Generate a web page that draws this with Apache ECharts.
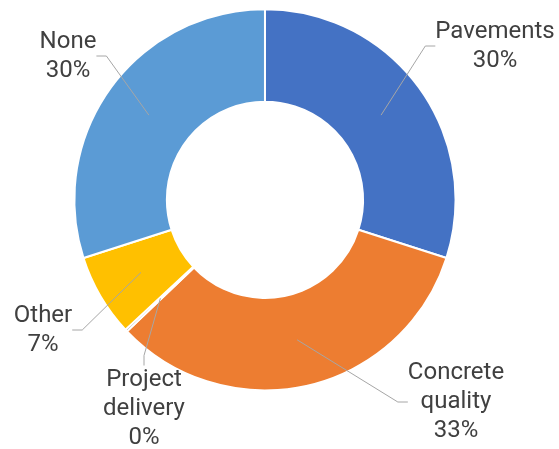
<!DOCTYPE html>
<html>
<head>
<meta charset="utf-8">
<script src="https://cdn.jsdelivr.net/npm/echarts@6/dist/echarts.min.js"></script>
<style>
  html, body { margin: 0; padding: 0; background: #fff; }
  #chart { width: 559px; height: 449px; }
</style>
</head>
<body>
<div id="chart"></div>
<script>
// Share of issues by category (percent)
const categories = ['Pavements', 'Concrete quality', 'Project delivery', 'Other', 'None'];
const shares = [30, 33, 0.2, 7, 30];
const colors = ['#4472C4', '#ED7D31', '#A5A5A5', '#FFC000', '#5B9BD5'];

// Where each category's label block sits (centre of the text block, px)
const labelSpots = [
  [495, 46],
  [456, 402],
  [144, 409],
  [43, 330],
  [68, 56]
];

const center = ['47.4%', '44.5%'];

const ringData = categories.map((name, i) => ({
  name, value: shares[i], itemStyle: { color: colors[i] }
}));

const chart = echarts.init(document.getElementById('chart'), null, { renderer: 'canvas' });

chart.setOption({
  animation: false,
  backgroundColor: '#ffffff',
  series: [
    {
      // the coloured ring
      type: 'pie',
      z: 1,
      center,
      radius: ['43.7%', '84.9%'],
      startAngle: 90,
      clockwise: true,
      silent: true,
      avoidLabelOverlap: false,
      label: { show: false },
      labelLine: { show: false },
      itemStyle: { borderColor: '#ffffff', borderWidth: 2 },
      data: ringData
    },
    {
      // invisible pie whose edge is the middle of the ring: its leader lines start there
      type: 'pie',
      z: 5,
      center,
      radius: ['0%', '64%'],
      startAngle: 90,
      clockwise: true,
      silent: true,
      avoidLabelOverlap: false,
      itemStyle: { color: 'rgba(0,0,0,0)', borderWidth: 0 },
      label: {
        show: true,
        position: 'outside',
        color: '#404040',
        fontFamily: 'Roboto',
        fontSize: 24,
        lineHeight: 29,
        align: 'center',
        formatter: p => p.name.replace(' ', '\n') + '\n' + Math.round(p.percent) + '%'
      },
      labelLine: {
        show: true,
        length: 10,
        length2: 10,
        lineStyle: { color: '#A6A6A6', width: 1 }
      },
      labelLayout: p => ({
        x: labelSpots[p.dataIndex][0],
        y: labelSpots[p.dataIndex][1],
        align: 'center',
        verticalAlign: 'middle'
      }),
      data: categories.map((name, i) => ({ name, value: shares[i] }))
    }
  ]
});
</script>
</body>
</html>
